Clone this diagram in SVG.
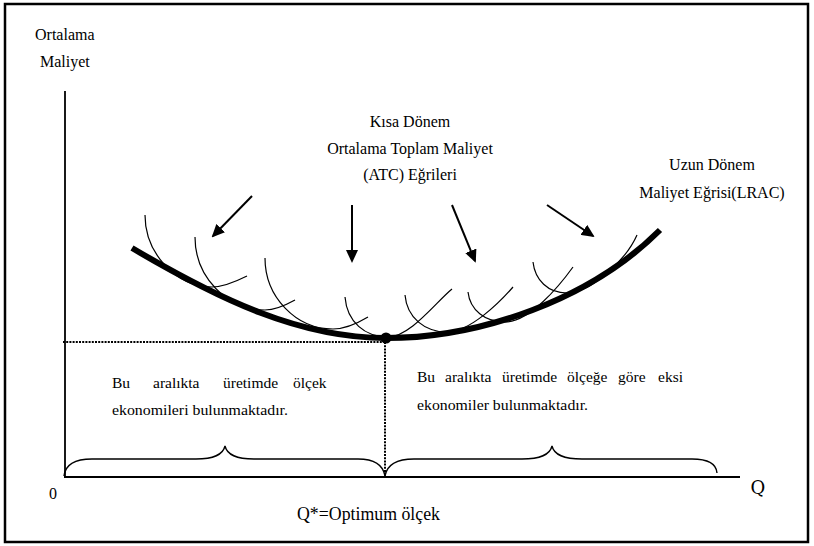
<svg xmlns="http://www.w3.org/2000/svg" width="814" height="546" viewBox="0 0 814 546">
<style>
.tx{font-family:"Liberation Serif","Times New Roman",Tinos,serif;fill:#000}
.t16{font-size:16px}
.t15{font-size:15.5px}
.t18{font-size:18px}
.sr{fill:none;stroke:#000;stroke-width:1.2}
.arr{stroke:#000;stroke-width:2;fill:none}
.dot{fill:none;stroke:#000;stroke-width:2;stroke-dasharray:2 1.2}
.brace{fill:none;stroke:#000;stroke-width:1.4}
</style>
<defs>
<marker id="ah" markerUnits="userSpaceOnUse" markerWidth="13" markerHeight="12" refX="11" refY="6" orient="auto" viewBox="0 0 13 12">
<path d="M0,0 L13,6 L0,12 z" fill="#000"/>
</marker>
</defs>
<rect x="5" y="4" width="803" height="538" fill="#fff" stroke="#000" stroke-width="2.5"/>
<g id="axes" stroke="#000" stroke-width="1.8" fill="none">
<line x1="65" y1="91" x2="65" y2="477"/>
<line x1="64" y1="477" x2="740" y2="477"/>
</g>
<g id="guides">
<line class="dot" x1="63" y1="342" x2="385" y2="342"/>
<line class="dot" x1="385" y1="342" x2="385" y2="476"/>
</g>
<g id="braces">
<path class="brace" d="M64,476 Q66,459 92,459 L196,459 Q222,459 225,446 Q228,459 254,459 L358,459 Q382,459 385,476"/>
<path class="brace" d="M385,476 Q388,459 414,459 L522,459 Q549,459 552,446 Q555,459 582,459 L692,459 Q716,459 717,473"/>
</g>
<g id="short-run-curves">
<path class="sr" d="M145,215 C145,252 175,287 212,287 C224,287 237,281 247,276"/>
<path class="sr" d="M195,237 C195,277 227,310 265,310 C276,310 286,305 295,300"/>
<path class="sr" d="M265,258 C265,297 296,329 333,329 C346,329 358,323 368,317"/>
<path class="sr" d="M345,297 C347,322 365,337 388,337 C410,337 436,302 452,289"/>
<path class="sr" d="M405,295 C407,318 425,332 447,332 C470,332 500,302 513,287"/>
<path class="sr" d="M468,292 C470,310 485,322 505,322 C530,322 560,285 573,267"/>
<path class="sr" d="M533,262 C535,280 548,293 567,293 C592,293 627,258 637,235"/>
</g>
<g id="lrac">
<path d="M132,248 C220,300 300,338 386,338 C480,338 590,300 660,230" fill="none" stroke="#000" stroke-width="6"/>
<circle cx="386" cy="338" r="5.5" fill="#000"/>
</g>
<g id="connectors">
<line class="arr" x1="252" y1="196" x2="213" y2="236" marker-end="url(#ah)"/>
<line class="arr" x1="352" y1="205" x2="352" y2="261" marker-end="url(#ah)"/>
<line class="arr" x1="452" y1="205" x2="475" y2="261" marker-end="url(#ah)"/>
<line class="arr" x1="547" y1="205" x2="593" y2="236" marker-end="url(#ah)"/>
</g>
<g id="label-y" class="tx t16">
<text x="35" y="40">Ortalama</text>
<text x="40" y="67">Maliyet</text>
</g>
<g id="label-srac" class="tx t16" text-anchor="middle">
<text x="410" y="127">Kısa Dönem</text>
<text x="410" y="154">Ortalama Toplam Maliyet</text>
<text x="410" y="180">(ATC) Eğrileri</text>
</g>
<g id="label-lrac" class="tx t16" text-anchor="middle">
<text x="712" y="170">Uzun Dönem</text>
<text x="712" y="198">Maliyet Eğrisi(LRAC)</text>
</g>
<g id="label-left" class="tx t15">
<text x="112" y="388">Bu</text>
<text x="153" y="388">aralıkta</text>
<text x="223" y="388">üretimde</text>
<text x="293" y="388">ölçek</text>
<text x="112" y="415" textLength="176" lengthAdjust="spacingAndGlyphs">ekonomileri bulunmaktadır.</text>
</g>
<g id="label-right" class="tx t15">
<text x="417" y="382">Bu</text>
<text x="445" y="382">aralıkta</text>
<text x="502" y="382">üretimde</text>
<text x="567" y="382">ölçeğe</text>
<text x="618" y="382">göre</text>
<text x="658" y="382">eksi</text>
<text x="417" y="410" textLength="171" lengthAdjust="spacingAndGlyphs">ekonomiler bulunmaktadır.</text>
</g>
<g id="label-axes" class="tx">
<text class="t16" x="53" y="499" text-anchor="middle">0</text>
<text class="t18" x="758" y="494" text-anchor="middle" style="font-family:'DejaVu Serif',serif">Q</text>
<text class="t18" x="297" y="520" textLength="143" lengthAdjust="spacingAndGlyphs">Q*=Optimum ölçek</text>
</g>
</svg>
